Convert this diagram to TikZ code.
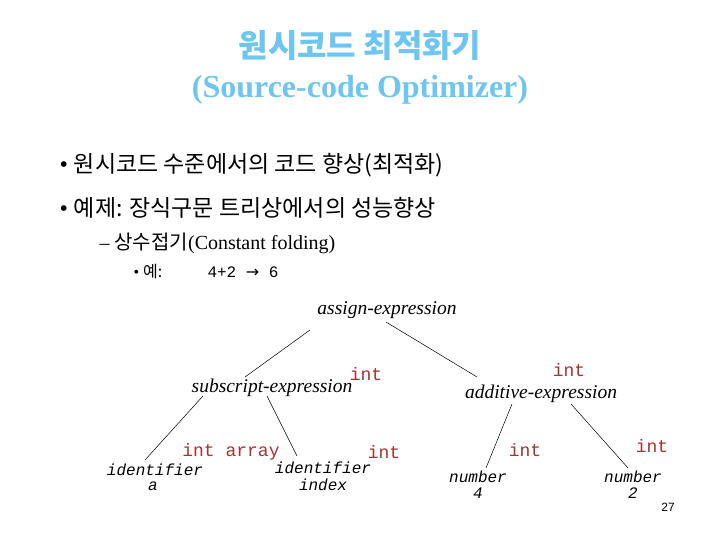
\documentclass[tikz,border=0pt]{standalone}
\usepackage{fontspec}
\setmainfont{Liberation Serif}
\setmonofont{Liberation Mono}
\setsansfont{Liberation Sans}
\newfontfamily\kr{Noto Sans CJK KR}
\newfontfamily\krb{Noto Sans CJK KR Medium}
\newfontfamily\dv{DejaVu Sans}
\definecolor{ttl}{HTML}{6EC6F0}
\definecolor{ired}{HTML}{A83232}
\begin{document}
\begin{tikzpicture}[x=1pt,y=-1pt,
  tl/.style={font=\itshape\fontsize{19.5}{20}\selectfont, inner sep=0pt},
  tt/.style={font=\ttfamily\itshape\fontsize{16}{17}\selectfont, inner sep=0pt},
  ty/.style={font=\ttfamily\fontsize{18}{19}\selectfont, text=ired, inner sep=0pt},
  ln/.style={draw, line width=0.5pt}]
\useasboundingbox[fill=white] (0,0) rectangle (720,540);
\node[text=ttl, font=\kr\bfseries\fontsize{32}{34}\selectfont] (t1) at (360,46) {원시코드 최적화기};
\node[text=ttl, font=\bfseries\fontsize{32}{33}\selectfont] (t2) at (360,90) {(Source-code Optimizer)};
\node[anchor=west, font=\fontsize{24}{26}\selectfont] (b1) at (56,165) {• {\kr\fontsize{23}{26}\selectfont 원시코드 수준에서의 코드 향상(최적화)}};
\node[anchor=west, font=\fontsize{24}{26}\selectfont] (b2) at (56,208) {• {\kr\fontsize{23}{26}\selectfont 예제: 장식구문 트리상에서의 성능향상}};
\node[anchor=west, font=\fontsize{20}{22}\selectfont] (b3) at (96,243) {– {\kr 상수접기}(Constant folding)};
\node[anchor=west, font=\fontsize{16}{18}\selectfont] (b4) at (130,272) {• {\kr 예:}};
\node[anchor=west, font=\ttfamily\fontsize{16}{18}\selectfont] (b5) at (204,272) {4+2 {\dv →} 6};
\node[tl] (ae) at (387,310) {assign-expression};
\node[tl] (se) at (272,388) {subscript-expression};
\node[ty] (i1) at (366,374) {int};
\node[tl] (ad) at (541,394) {additive-expression};
\node[ty] (i2) at (569,370) {int};
\node[tt] (id1) at (155,470) {identifier};
\node[tt] (id1b) at (153,486) {a};
\node[ty] (i3) at (231,452) {int array};
\node[tt] (id2) at (323,468) {identifier};
\node[tt] (id2b) at (323,485) {index};
\node[ty] (i4) at (384,452) {int};
\node[tt] (n1) at (478,477) {number};
\node[tt] (n1b) at (478,493) {4};
\node[ty] (i5) at (525,450) {int};
\node[tt] (n2) at (633,477) {number};
\node[tt] (n2b) at (633,493) {2};
\node[ty] (i6) at (652,446) {int};
\node[font=\sffamily\fontsize{12}{13}\selectfont] (pg) at (668,507) {27};
\coordinate (a1) at (310,330); \coordinate (a2) at (245,377);
\coordinate (a3) at (386,322); \coordinate (a4) at (477,377);
\coordinate (s1) at (203,396); \coordinate (s2) at (145,460);
\coordinate (s3) at (267,396); \coordinate (s4) at (297,456);
\coordinate (d1) at (512,404); \coordinate (d2) at (486,468);
\coordinate (d3) at (571,404); \coordinate (d4) at (628,468);
\draw[ln] (a1) -- (a2); \draw[ln] (a3) -- (a4);
\draw[ln] (s1) -- (s2); \draw[ln] (s3) -- (s4);
\draw[ln] (d1) -- (d2); \draw[ln] (d3) -- (d4);
\end{tikzpicture}
\end{document}
